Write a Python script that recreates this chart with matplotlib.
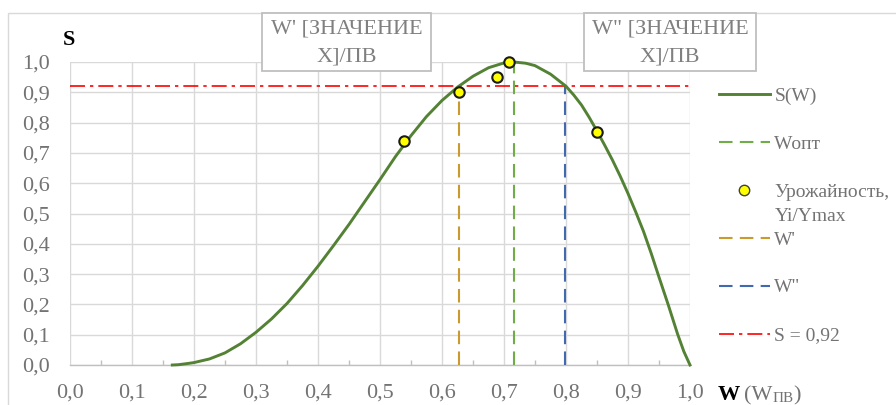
import matplotlib
matplotlib.use('Agg')
import matplotlib.pyplot as plt
from matplotlib.lines import Line2D
from matplotlib.patches import Rectangle
from matplotlib.ticker import FixedLocator

plt.rcParams['font.family'] = ['Liberation Serif', 'DejaVu Serif']

# ---------------- data ----------------
W_curve = [0.165, 0.175, 0.19, 0.2, 0.225, 0.25, 0.275, 0.3, 0.325, 0.35, 0.375,
           0.4, 0.425, 0.45, 0.475, 0.5, 0.525, 0.55, 0.575, 0.6, 0.625, 0.65,
           0.675, 0.7, 0.716, 0.735, 0.75, 0.775, 0.8, 0.8125, 0.825, 0.8375, 0.85,
           0.8625, 0.875, 0.8875, 0.9, 0.9125, 0.925, 0.9375, 0.95, 0.965, 0.98,
           0.99, 1.0]
S_curve = [0.0, 0.001, 0.005, 0.008, 0.02, 0.04, 0.07, 0.108, 0.152, 0.203, 0.262,
           0.326, 0.394, 0.464, 0.538, 0.612, 0.688, 0.757, 0.82, 0.873, 0.917, 0.953,
           0.981, 0.997, 1.0, 0.996, 0.988, 0.96, 0.92, 0.891, 0.858, 0.817, 0.772,
           0.725, 0.676, 0.623, 0.566, 0.505, 0.441, 0.368, 0.29, 0.198, 0.102,
           0.045, 0.0]

W_points = [0.538, 0.628, 0.689, 0.7075, 0.8495]
S_points = [0.74, 0.90, 0.95, 1.00, 0.77]

W_opt = 0.716
W_1 = 0.627
W_2 = 0.798
S_level = 0.92

ticks = [0.0, 0.1, 0.2, 0.3, 0.4, 0.5, 0.6, 0.7, 0.8, 0.9, 1.0]
tick_labels = ['0,0', '0,1', '0,2', '0,3', '0,4', '0,5', '0,6', '0,7', '0,8', '0,9', '1,0']

legend_labels = ['S(W)', 'Wопт', 'Урожайность,', "W'", 'W"', 'S = 0,92']
legend_label_extra = 'Yi/Ymax'
box_line1 = ["W' [ЗНАЧЕНИЕ", 'W" [ЗНАЧЕНИЕ']
box_line2 = ['X]/ПВ', 'X]/ПВ']

# ---------------- style ----------------
FW, FH = 896, 405
c_curve = '#548235'
c_opt = '#70AD47'
c_w1 = '#C99A2E'
c_w2 = '#4169B0'
c_red = '#FF0000'
c_grid = '#D9D9D9'
c_text = '#737373'

fig = plt.figure(figsize=(FW / 100, FH / 100), dpi=100)
ax = fig.add_axes([70 / FW, (FH - 365) / FH, 620 / FW, 303 / FH])


def px(x, y):
    return (x / FW, (FH - y) / FH)


# outer chart border
fig.add_artist(Rectangle(px(8, 500), 2, (500 - 13) / FH, transform=fig.transFigure,
                         fill=False, edgecolor='#D9D9D9', lw=1.0, zorder=0))

ax.set_xlim(ticks[0], ticks[-1])
ax.set_ylim(ticks[0], ticks[-1])
ax.set_xticks(ticks)
ax.set_xticklabels(tick_labels)
ax.set_yticks(ticks)
ax.set_yticklabels(tick_labels)
ax.xaxis.set_minor_locator(FixedLocator([t + 0.05 for t in ticks[:-1]]))
ax.grid(True, which='major', color=c_grid, lw=1.0)
ax.set_axisbelow(True)
for s in ['top', 'right', 'left']:
    ax.spines[s].set_visible(False)
ax.spines['bottom'].set_color('#BFBFBF')
ax.spines['bottom'].set_linewidth(1.0)
ax.tick_params(axis='both', which='major', length=0, labelsize=16, labelcolor=c_text)
ax.tick_params(axis='x', which='major', pad=13)
ax.tick_params(axis='y', which='major', pad=14.5)
ax.tick_params(axis='x', which='minor', direction='in', length=3.5, color='#BFBFBF', width=1.0)

# lines
l_curve, = ax.plot(W_curve, S_curve, color=c_curve, lw=2.1, clip_on=False, zorder=4,
                   solid_joinstyle='round')
l_opt, = ax.plot([W_opt, W_opt], [0, 1.0], color=c_opt, lw=1.5, dashes=(6.5, 3.5), zorder=3)
l_w1, = ax.plot([W_1, W_1], [0, S_level], color=c_w1, lw=1.5, dashes=(6.5, 3.5), zorder=3)
l_w2, = ax.plot([W_2, W_2], [0, S_level], color=c_w2, lw=1.5, dashes=(6.5, 3.5), zorder=3)
l_red = ax.axhline(S_level, color=c_red, lw=1.2, dashes=(9, 3, 2, 3), zorder=3)
l_pts, = ax.plot(W_points, S_points, 'o', ms=7.5, mfc='#FFFF00', mec='#1a1a1a', mew=1.5,
                 clip_on=False, zorder=5, ls='none')

h_pts = Line2D([], [], marker='o', ls='none', ms=7.5, mfc='#FFFF00', mec='#404040', mew=1.0)
leg = ax.legend([l_curve, l_opt, h_pts, l_w1, l_w2, l_red], legend_labels,
                loc='upper left', bbox_to_anchor=px(719, 87), bbox_transform=fig.transFigure,
                frameon=False, fontsize=14, handlelength=2.6, handletextpad=0.25,
                labelspacing=1.56, borderpad=0, borderaxespad=0)
for t in leg.get_texts():
    t.set_color(c_text)

# annotation boxes (data-label callouts)
for (x0, x1), s1, s2 in zip([(262, 431), (584, 756)], box_line1, box_line2):
    fig.add_artist(Rectangle(px(x0, 71), (x1 - x0) / FW, 58 / FH, transform=fig.transFigure,
                             facecolor='white', edgecolor='#BFBFBF', lw=1.3, zorder=6))
    fig.text(*px((x0 + x1) / 2, 29), s1, ha='center', va='center', fontsize=16,
             color='#808080', zorder=7)
    fig.text(*px((x0 + x1) / 2, 57), s2, ha='center', va='center', fontsize=16,
             color='#808080', zorder=7)

# axis titles
fig.text(*px(63, 45), 'S', fontsize=16, fontweight='bold', color='black', va='baseline')

fig.canvas.draw()
r = fig.canvas.get_renderer()

# second line of the two-line legend entry
bb = leg.get_texts()[2].get_window_extent(r)
fig.text(bb.x0, bb.y0 - 24, legend_label_extra, fontsize=14, color=c_text,
         transform=None, va='bottom', ha='left')

# x axis title: W (W_ПВ)
base_y = FH - 400
t1 = fig.text(718, base_y, 'W', fontsize=16, fontweight='bold', color='black',
              transform=None, va='baseline')
e = t1.get_window_extent(r)
t2 = fig.text(e.x1 + 4, base_y, '(W', fontsize=16, color=c_text, transform=None, va='baseline')
e = t2.get_window_extent(r)
t3 = fig.text(e.x1, base_y - 2, 'ПВ', fontsize=11, color=c_text, transform=None, va='baseline')
e = t3.get_window_extent(r)
fig.text(e.x1, base_y, ')', fontsize=16, color=c_text, transform=None, va='baseline')

fig.savefig('out.png', dpi=100)
